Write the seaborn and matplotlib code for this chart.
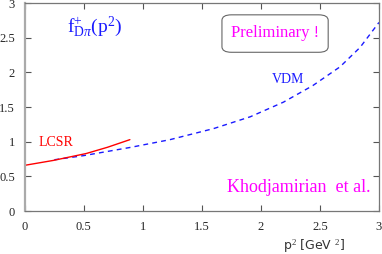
import numpy as np
import pandas as pd
import matplotlib
matplotlib.use("Agg")
import matplotlib.pyplot as plt
import seaborn as sns
from matplotlib.patches import FancyBboxPatch

# values
vdm_p2 = [0.25, 0.5, 0.9, 1.23, 1.6, 1.91, 2.19, 2.44, 2.67, 2.84, 3.0]
vdm_f = [0.74, 0.80, 0.92, 1.03, 1.19, 1.36, 1.57, 1.81, 2.08, 2.36, 2.72]
lcsr_p2 = [0.0, 0.24, 0.52, 0.7, 0.89]
lcsr_f = [0.66, 0.73, 0.83, 0.92, 1.03]

xticks = [0, 0.5, 1, 1.5, 2, 2.5, 3]
yticks = [0, 0.5, 1, 1.5, 2, 2.5, 3]

sns.set_style("ticks")
plt.rcParams['font.family'] = ['Liberation Serif', 'DejaVu Serif']
plt.rcParams['mathtext.fontset'] = 'custom'
plt.rcParams['mathtext.rm'] = 'Liberation Serif'
plt.rcParams['mathtext.it'] = 'Liberation Serif:italic'

vdm = pd.DataFrame({"p2": vdm_p2, "f": vdm_f})
lcsr = pd.DataFrame({"p2": lcsr_p2, "f": lcsr_f})

fig = plt.figure(figsize=(3.82, 2.54), dpi=100)
ax = fig.add_axes([0.065, 0.169, 0.927, 0.819])

sns.lineplot(data=vdm, x="p2", y="f", ax=ax, color="#1a1aff", lw=1.0,
             linestyle=(0, (3.5, 3)))
sns.lineplot(data=lcsr, x="p2", y="f", ax=ax, color="#ff0000", lw=1.0)

ax.set_xlim(0, 3)
ax.set_ylim(0, 3)
ax.set_xticks(xticks)
ax.set_yticks(yticks)
ax.set_xticklabels([f"{t:g}" for t in xticks], fontsize=9)
ax.set_yticklabels([f"{t:g}" for t in yticks], fontsize=9)
ax.tick_params(direction="in", length=4, color="#555555", top=True, right=True,
               labeltop=False, labelright=False, pad=7)
for s in ax.spines.values():
    s.set_color("#777777")
    s.set_linewidth(0.9)
ax.spines["left"].set_color("#aaaaaa")
ax.spines["left"].set_linewidth(1.6)
ax.set_xlabel("")
ax.set_ylabel("")

# labels inside the plot
ax.text(0.36, 2.58, r"$\mathrm{f}^{+}_{\mathrm{D}\pi}(\mathrm{p}^{2})$", color="#1a1aff",
        fontsize=14)
ax.text(2.09, 1.84, "VDM", color="#1a1aff", fontsize=10)
ax.text(0.12, 0.94, "LCSR", color="#ff0000", fontsize=10)
ax.text(2.93, 0.27, "Khodjamirian  et al.", color="#ff00ff", fontsize=13, ha="right")
ax.text(2.12, 2.57, "Preliminary !", color="#ff00ff", fontsize=12, ha="center",
        va="center")
box = FancyBboxPatch((1.67, 2.29), 0.9, 0.54, boxstyle="round,pad=0,rounding_size=0.08",
                     fill=False, ec="#666666", lw=0.8, transform=ax.transData)
ax.add_patch(box)

fig.text(0.822, 0.018, r"p$^{2}$ [GeV $^{2}$]", fontsize=9, ha="center",
         color="#333333", family="DejaVu Sans")

fig.savefig("out.png", dpi=100)
